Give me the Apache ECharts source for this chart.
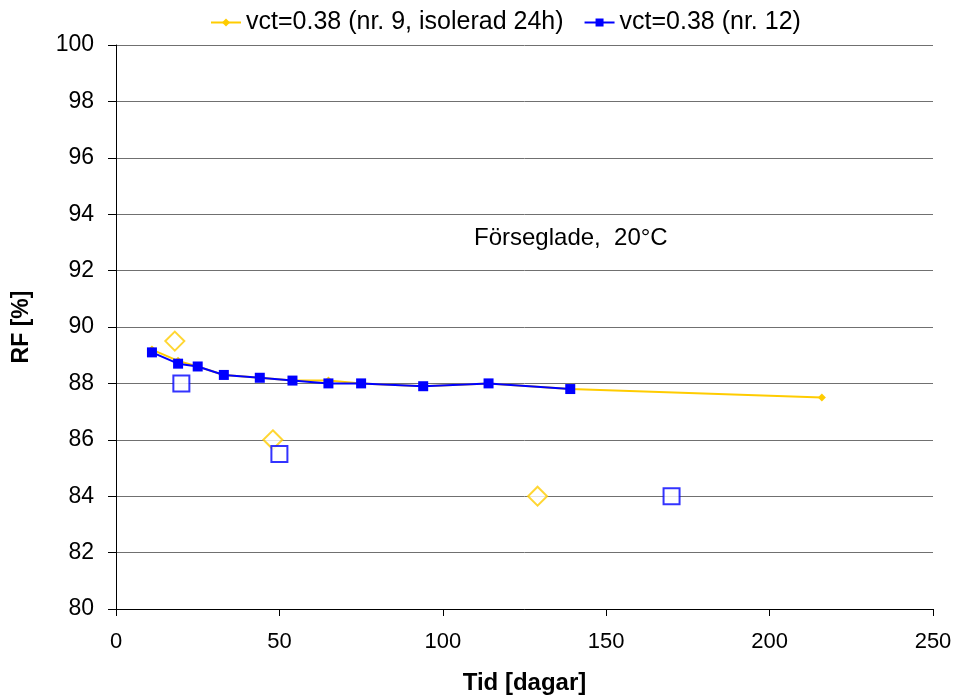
<!DOCTYPE html>
<html><head><meta charset="utf-8">
<script src="https://cdn.jsdelivr.net/npm/echarts@6/dist/echarts.min.js"></script>
<style>html,body{margin:0;padding:0;background:#fff}#c{width:957px;height:700px}</style>
</head><body><div id="c"></div>
<script>
var seriesNames = ['vct=0.38 (nr. 9, isolerad 24h)', 'vct=0.38 (nr. 12)'];
var daysNr9 = [11, 19, 25, 33, 44, 54, 65, 75, 94, 114, 139, 216];
var rfNr9 = [89.2, 88.8, 88.6, 88.3, 88.2, 88.1, 88.1, 88.0, 87.9, 88.0, 87.8, 87.5];
var daysNr12 = [11, 19, 25, 33, 44, 54, 65, 75, 94, 114, 139];
var rfNr12 = [89.1, 88.7, 88.6, 88.3, 88.2, 88.1, 88.0, 88.0, 87.9, 88.0, 87.8];
var openDaysNr9 = [18, 48, 129];
var openRfNr9 = [89.5, 86.0, 84.0];
var openDaysNr12 = [20, 50, 170];
var openRfNr12 = [88.0, 85.5, 84.0];
var annotation = 'Förseglade,  20°C';
var xTitle = 'Tid [dagar]';
var yTitle = 'RF [%]';

function pairs(xs, ys) { return xs.map(function (x, i) { return [x, ys[i]]; }); }

var yellow = '#FFCC00', blue = '#0000FF';
var font = 'Liberation Sans, Arial, sans-serif';
var chart = echarts.init(document.getElementById('c'), null, {renderer: 'canvas'});
chart.setOption({
  animation: false,
  backgroundColor: '#fff',
  textStyle: {fontFamily: font},
  grid: {left: 116, right: 24, top: 45, bottom: 88, containLabel: false},
  legend: {
    top: 5, left: 205, itemWidth: 30, itemHeight: 10, itemGap: 20,
    textStyle: {fontSize: 25, color: '#000', fontFamily: font},
    data: seriesNames
  },
  xAxis: {
    type: 'value', min: 0, max: 250, interval: 50,
    name: xTitle, nameLocation: 'middle', nameGap: 62,
    nameTextStyle: {fontSize: 24, fontWeight: 'bold', color: '#000', fontFamily: font},
    axisLine: {show: true, onZero: false, lineStyle: {color: '#000', width: 1}},
    axisTick: {show: true, inside: false, length: 7, lineStyle: {color: '#000'}},
    axisLabel: {fontSize: 22, color: '#000', margin: 22, fontFamily: font},
    splitLine: {show: false}
  },
  yAxis: {
    type: 'value', min: 80, max: 100, interval: 2,
    name: yTitle, nameLocation: 'middle', nameGap: 83, nameRotate: 90,
    nameTextStyle: {fontSize: 23, fontWeight: 'bold', color: '#000', fontFamily: font},
    axisLine: {show: true, onZero: false, lineStyle: {color: '#000', width: 1}},
    axisTick: {show: true, inside: false, length: 8, lineStyle: {color: '#000'}},
    axisLabel: {fontSize: 23, color: '#000', margin: 22, fontFamily: font},
    splitLine: {show: true, lineStyle: {color: '#707070', width: 1}}
  },
  series: [
    {
      name: seriesNames[0], type: 'line', data: pairs(daysNr9, rfNr9),
      symbol: 'diamond', symbolSize: 8, showSymbol: true,
      lineStyle: {color: yellow, width: 2}, itemStyle: {color: yellow}, z: 2
    },
    {
      name: seriesNames[1], type: 'line', data: pairs(daysNr12, rfNr12),
      symbol: 'rect', symbolSize: 10, showSymbol: true,
      lineStyle: {color: blue, width: 2}, itemStyle: {color: blue}, z: 3
    },
    {
      name: 'open9', type: 'scatter', data: pairs(openDaysNr9, openRfNr9),
      symbol: 'diamond', symbolSize: [19, 19],
      itemStyle: {color: '#fff', borderColor: yellow, borderWidth: 2}, z: 4
    },
    {
      name: 'open12', type: 'scatter', data: pairs(openDaysNr12, openRfNr12),
      symbol: 'rect', symbolSize: 16,
      itemStyle: {color: '#fff', borderColor: blue, borderWidth: 2}, z: 4
    }
  ],
  graphic: [{
    type: 'text', left: 474, top: 226,
    style: {text: annotation, fontSize: 24, fill: '#000', fontFamily: font}
  }]
});
</script></body></html>
